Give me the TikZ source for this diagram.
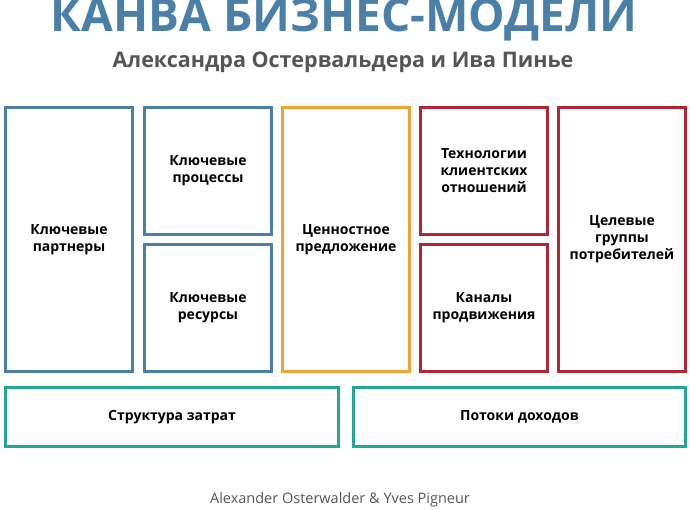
\documentclass[tikz,border=0pt]{standalone}
\usepackage{fontspec}
\setmainfont{Open Sans}
\definecolor{cblue}{HTML}{4A80A8}
\definecolor{corange}{HTML}{F2A134}
\definecolor{cred}{HTML}{B32635}
\definecolor{cteal}{HTML}{21A899}
\definecolor{cgray}{HTML}{555555}
\tikzset{
  box/.style={draw=#1, line width=3.5pt, rectangle, inner sep=0pt, align=center,
    font=\fontsize{14}{17}\selectfont\bfseries, text=black},
}
\begin{document}
\begin{tikzpicture}[x=1pt,y=-1pt]
\useasboundingbox (0,0) rectangle (690,510);
\node (title) at (344,20) {\fontsize{46}{48}\selectfont\bfseries\color{cblue}КАНВА БИЗНЕС-МОДЕЛИ};
\node (sub) at (343,62) {\fontsize{21.5}{23}\selectfont\bfseries\color{cgray}Александра Остервальдера и Ива Пинье};
\node[box=cblue, minimum width=127, minimum height=264] (kp) at (69,239.5) {Ключевые\\партнеры};
\node[box=cblue, minimum width=127, minimum height=127] (ka) at (208,171) {Ключевые\\процессы};
\node[box=cblue, minimum width=127, minimum height=127] (kr) at (208,308) {Ключевые\\ресурсы};
\node[box=corange, minimum width=127, minimum height=264] (vp) at (346,239.5) {Ценностное\\предложение};
\node[box=cred, minimum width=127, minimum height=127] (cr) at (484,171) {Технологии\\клиентских\\отношений};
\node[box=cred, minimum width=127, minimum height=127] (ch) at (484,308) {Каналы\\продвижения};
\node[box=cred, minimum width=127, minimum height=264] (cs) at (622,239.5) {Целевые\\группы\\потребителей};
\node[box=cteal, minimum width=333, minimum height=59] (cost) at (172,417) {Структура затрат};
\node[box=cteal, minimum width=332, minimum height=59] (rev) at (519.5,417) {Потоки доходов};
\node (foot) at (340,500) {\fontsize{14.5}{16}\selectfont\color{cgray}Alexander Osterwalder \& Yves Pigneur};
\end{tikzpicture}
\end{document}
